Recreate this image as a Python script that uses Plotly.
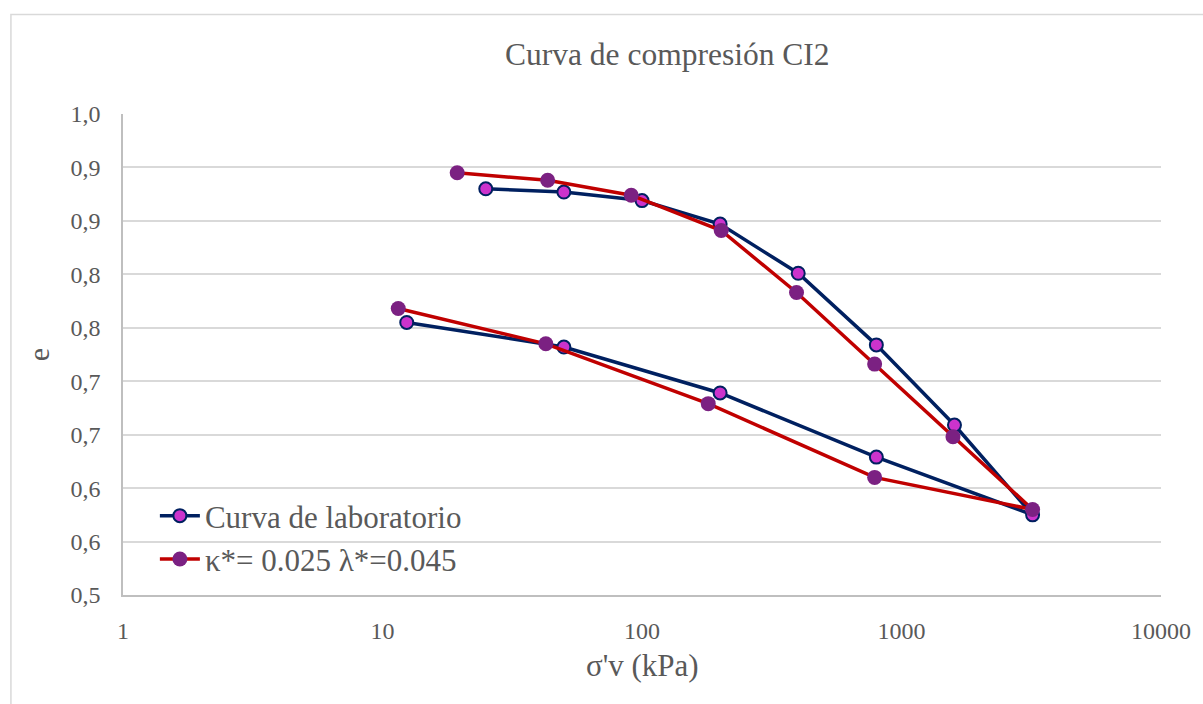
import plotly.graph_objects as go

# ---- data ----
lab_sigma = [25, 50, 100, 200, 400, 800, 1600, 3200, 800, 200, 50, 12.4]
lab_e = [0.880, 0.877, 0.869, 0.847, 0.801, 0.734, 0.659, 0.575, 0.629, 0.689, 0.732, 0.755]

model_sigma = [19.4, 43.3, 90.9, 202, 394, 788, 1579, 3200, 788, 180, 42.6, 11.5]
model_e = [0.895, 0.888, 0.874, 0.841, 0.783, 0.716, 0.648, 0.580, 0.610, 0.679, 0.735, 0.768]

x_tickvals = [1, 10, 100, 1000, 10000]
x_ticktext = ["1", "10", "100", "1000", "10000"]
y_tickvals = [0.50, 0.55, 0.60, 0.65, 0.70, 0.75, 0.80, 0.85, 0.90, 0.95]
y_ticktext = ["0,5", "0,6", "0,6", "0,7", "0,7", "0,8", "0,8", "0,9", "0,9", "1,0"]

title_text = "Curva de compresión CI2"
x_title = "σ'v (kPa)"
y_title = "e"
lab_name = "Curva de laboratorio"
model_name = "κ*= 0.025 λ*=0.045"

# ---- layout geometry ----
W, H = 1203, 704
L, R, T, B = 123, 1165, 114, 595
PW, PH = R - L, B - T


def px(x):
    return (x - L) / PW


def py(y):
    return (B - y) / PH


FONT = "Liberation Serif"
TXT = "#595959"

fig = go.Figure()
fig.add_trace(go.Scatter(
    x=lab_sigma, y=lab_e, name=lab_name, mode="lines+markers",
    line=dict(color="#002060", width=3.5),
    marker=dict(size=13, color="#CC33CC", line=dict(color="#002060", width=2)),
))
fig.add_trace(go.Scatter(
    x=model_sigma, y=model_e, name=model_name, mode="lines+markers",
    line=dict(color="#C00000", width=3.5),
    marker=dict(size=15, color="#7B2182", line=dict(width=0)),
))

fig.update_layout(
    width=W, height=H,
    margin=dict(l=L, r=W - R, t=T, b=H - B),
    paper_bgcolor="white", plot_bgcolor="white",
    font=dict(family=FONT, color=TXT),
    showlegend=True,
    legend=dict(
        x=px(155), y=py(489), xanchor="left", yanchor="top",
        bgcolor="rgba(0,0,0,0)", font=dict(size=31, color=TXT, family=FONT),
        itemwidth=40, tracegroupgap=0,
    ),
    xaxis=dict(
        type="log", range=[0, 4], tickvals=x_tickvals, ticktext=x_ticktext,
        showgrid=False, showline=True, linecolor="#bfbfbf", linewidth=1.5,
        ticks="", tickfont=dict(size=24, color=TXT, family=FONT),
        ticklabelstandoff=13, zeroline=False,
    ),
    yaxis=dict(
        range=[0.5, 0.95], tickvals=y_tickvals, ticktext=y_ticktext,
        showgrid=True, gridcolor="#d9d9d9", gridwidth=1.5,
        showline=True, linecolor="#bfbfbf", linewidth=1.5,
        ticks="", tickfont=dict(size=24, color=TXT, family=FONT),
        ticklabelstandoff=16, zeroline=False,
    ),
    annotations=[
        dict(text=title_text, x=px(670), y=py(55), xref="paper", yref="paper",
             showarrow=False, font=dict(size=31.5, color=TXT, family=FONT),
             xanchor="center", yanchor="middle"),
        dict(text=x_title, x=px(644), y=py(665), xref="paper", yref="paper",
             showarrow=False, font=dict(size=31, color=TXT, family=FONT),
             xanchor="center", yanchor="middle"),
        dict(text=y_title, x=px(38), y=py(355), xref="paper", yref="paper",
             showarrow=False, textangle=-90,
             font=dict(size=30, color=TXT, family=FONT),
             xanchor="center", yanchor="middle"),
    ],
    shapes=[
        dict(type="rect", xref="paper", yref="paper",
             x0=px(10.5), x1=px(1210), y0=py(14.5), y1=py(720),
             line=dict(color="#d9d9d9", width=1.5), fillcolor="rgba(0,0,0,0)",
             layer="below"),
    ],
)

fig.write_html("out.html")
